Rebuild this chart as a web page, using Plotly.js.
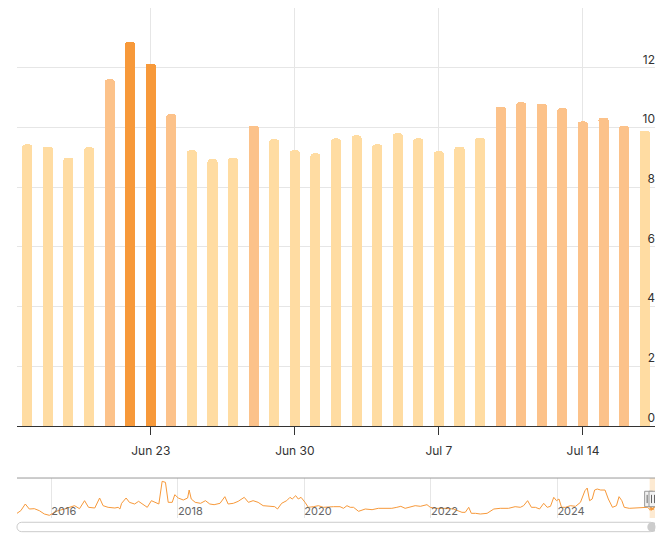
<!DOCTYPE html>
<html>
<head>
<meta charset="utf-8">
<script src="https://cdn.plot.ly/plotly-3.0.1.min.js"></script>
<style>
  html, body { margin: 0; padding: 0; background: #fff; }
  #chart { width: 664px; height: 534px; }
</style>
</head>
<body>
<div id="chart"></div>
<script>
// daily values shown as bars
var days = ['2025-06-17','2025-06-18','2025-06-19','2025-06-20','2025-06-21','2025-06-22','2025-06-23',
  '2025-06-24','2025-06-25','2025-06-26','2025-06-27','2025-06-28','2025-06-29','2025-06-30',
  '2025-07-01','2025-07-02','2025-07-03','2025-07-04','2025-07-05','2025-07-06','2025-07-07',
  '2025-07-08','2025-07-09','2025-07-10','2025-07-11','2025-07-12','2025-07-13','2025-07-14',
  '2025-07-15','2025-07-16','2025-07-17']
var values = [9.43, 9.36, 8.99, 9.33, 11.61, 12.86, 12.14,
  10.44, 9.23, 8.93, 8.99, 10.06, 9.60, 9.23,
  9.13, 9.63, 9.73, 9.43, 9.80, 9.63, 9.20,
  9.36, 9.66, 10.70, 10.84, 10.80, 10.64, 10.20,
  10.33, 10.06, 9.89]

// long history for the navigator strip
var histDates = ['2015-06-17','2015-07-09','2015-08-04','2015-08-27','2015-09-25','2015-10-24','2015-11-22','2015-12-21',
  '2016-01-10','2016-02-08','2016-03-17','2016-04-15','2016-05-14','2016-06-12','2016-07-11','2016-08-03','2016-09-08',
  '2016-10-06','2016-10-26','2016-11-24','2017-01-02','2017-01-21','2017-01-31','2017-02-10','2017-03-08','2017-03-27',
  '2017-04-26','2017-05-19','2017-06-13','2017-07-08','2017-08-01','2017-08-20','2017-09-13','2017-10-02','2017-10-21',
  '2017-11-06','2017-11-29','2017-12-14','2018-01-03','2018-02-01','2018-02-26','2018-03-07','2018-03-19','2018-04-11',
  '2018-05-12','2018-06-09','2018-07-04','2018-07-29','2018-09-01','2018-09-29','2018-10-18','2018-11-17','2018-12-15',
  '2019-01-19','2019-02-12','2019-03-11','2019-04-09','2019-05-08','2019-06-16','2019-07-14','2019-07-30','2019-08-23',
  '2019-09-21','2019-10-10','2019-10-23','2019-11-12','2019-11-27','2019-12-13','2020-01-05','2020-01-24','2020-02-23',
  '2020-03-22','2020-04-20','2020-05-19','2020-06-17','2020-07-25','2020-08-14','2020-09-03','2020-09-22','2020-10-11',
  '2020-11-09','2020-12-18','2021-01-26','2021-03-03','2021-04-11','2021-05-20','2021-06-18','2021-07-11','2021-08-05',
  '2021-09-04','2021-10-02','2021-11-01','2021-11-20','2021-12-09','2021-12-28','2022-01-27','2022-03-24','2022-05-11',
  '2022-06-29','2022-07-18','2022-08-07','2022-08-22','2022-09-15','2022-10-13','2022-11-21','2022-12-30','2023-02-05',
  '2023-03-25','2023-05-02','2023-06-01','2023-06-20','2023-07-13','2023-08-04','2023-08-27','2023-09-20','2023-10-14',
  '2023-11-03','2023-11-22','2023-12-11','2023-12-27','2024-01-10','2024-01-25','2024-02-17','2024-03-16','2024-04-15',
  '2024-05-13','2024-06-08','2024-06-21','2024-07-05','2024-07-20','2024-08-03','2024-08-18','2024-09-07','2024-10-02',
  '2024-10-21','2024-11-14','2024-12-07','2024-12-22','2025-01-07','2025-01-21','2025-02-19','2025-03-27','2025-05-05',
  '2025-06-03']
var histValues = [7.75, 8.81, 11.48, 9.48, 9.61, 8.81, 7.48, 6.95,
  7.75, 8.81, 9.48, 10.15, 10.81, 9.61, 12.81, 10.15, 9.88,
  13.88, 10.81, 10.15, 9.88, 10.15, 9.48, 11.75, 13.88, 12.15,
  11.48, 12.55, 11.48, 10.15, 12.81, 12.15, 11.48, 20.55, 20.15,
  12.15, 12.15, 15.21, 13.88, 13.08, 13.88, 17.08, 13.48, 12.15,
  11.75, 12.81, 11.48, 11.21, 11.75, 14.41, 11.48, 11.75, 12.55,
  14.15, 12.15, 12.81, 12.15, 10.81, 10.68, 10.41, 9.48, 11.75,
  12.81, 14.15, 13.48, 14.81, 13.48, 14.15, 12.15, 10.15, 10.41,
  10.81, 10.15, 10.41, 10.41, 10.41, 9.75, 10.81, 10.15, 10.15,
  8.55, 9.48, 9.21, 9.75, 9.61, 9.75, 10.15, 10.55, 9.75,
  10.15, 10.81, 10.55, 10.81, 11.21, 10.15, 9.75, 9.75, 9.48,
  8.15, 8.15, 10.15, 7.75, 7.75, 7.48, 7.75, 9.48, 9.75,
  9.75, 10.41, 10.15, 10.81, 12.81, 10.15, 10.15, 9.48, 11.75,
  10.15, 10.55, 14.15, 12.81, 13.48, 10.15, 10.15, 10.81, 10.55,
  12.15, 16.81, 17.88, 12.81, 13.48, 17.08, 17.48, 17.08, 17.08,
  13.48, 10.15, 10.81, 14.41, 12.81, 10.15, 9.75, 9.88, 10.15,
  10.15]

var yTicks = [0, 2, 4, 6, 8, 10, 12, 14]
var yTickText = ['0', '2', '4', '6', '8', '10', '12', '']

var DAY = 86400000
var viewStart = '2025-06-16 12:00'
var viewEnd = '2025-07-17 12:00'
var navStart = '2015-06-17'
var navTop = 0.0784   // top of navigator strip, paper units

// shade bars by level
var barColors = values.map(function (v) {
  if (v > 12) return '#F7993A'
  if (v >= 10) return '#FCC28A'
  return '#FFDCA2'
})

var bars = {
  type: 'bar',
  x: days,
  y: values,
  width: DAY * 0.49,
  marker: { color: barColors, cornerradius: 3 },
  hoverinfo: 'x+y',
  xaxis: 'x',
  yaxis: 'y'
}

var navLine = {
  type: 'scatter',
  mode: 'lines',
  x: histDates.concat(days),
  y: histValues.concat(values),
  line: { color: '#F7993A', width: 1 },
  hoverinfo: 'skip',
  xaxis: 'x2',
  yaxis: 'y2'
}

var handleTop = 0.0524, handleBot = 0.0222
var shapes = [
  // navigator top border
  { type: 'line', xref: 'paper', yref: 'paper', x0: 0, x1: 1, y0: navTop, y1: navTop,
    line: { color: '#999', width: 1 } },
  // selected window
  { type: 'rect', xref: 'x2', yref: 'paper', x0: viewStart, x1: viewEnd, y0: 0, y1: navTop,
    fillcolor: 'rgba(247,148,29,0.2)', line: { width: 0 }, layer: 'below' },
  // scrollbar track
  { type: 'path', xref: 'paper', yref: 'paper', xsizemode: 'pixel', ysizemode: 'pixel',
    xanchor: 0, yanchor: -0.0176,
    path: 'M 4.7,4.7 L 633.3,4.7 C 639.6,4.7 639.6,-4.7 633.3,-4.7 L 4.7,-4.7 C -1.6,-4.7 -1.6,4.7 4.7,4.7 Z',
    fillcolor: '#fff', line: { color: '#ccc', width: 1 } }
]

// handles at both window edges
;[viewStart, viewEnd].forEach(function (edge, k) {
  var off = k === 0 ? -1 : -2
  shapes.push({ type: 'rect', xref: 'x2', yref: 'paper', xsizemode: 'pixel', xanchor: edge,
    x0: off - 4, x1: off + 4, y0: handleBot, y1: handleTop,
    fillcolor: '#f2f2f2', line: { color: '#999', width: 1 } })
  ;[-1.5, 1.5].forEach(function (d) {
    shapes.push({ type: 'line', xref: 'x2', yref: 'paper', xsizemode: 'pixel', xanchor: edge,
      x0: off + d, x1: off + d, y0: handleBot + 0.007, y1: handleTop - 0.007,
      line: { color: '#666', width: 1 } })
  })
})

// scrollbar thumb
shapes.push({ type: 'circle', xref: 'x2', yref: 'paper', xsizemode: 'pixel', ysizemode: 'pixel',
  xanchor: '2025-07-02', yanchor: -0.0176, x0: -5, x1: 5, y0: -5, y1: 5,
  fillcolor: '#ccc', line: { width: 0 } })

var layout = {
  width: 664,
  height: 534,
  margin: { l: 17, r: 9, t: 8, b: 16 },
  paper_bgcolor: '#fff',
  plot_bgcolor: '#fff',
  showlegend: false,
  font: { family: 'Inter, "Open Sans", sans-serif', color: '#333', size: 12 },
  bargap: 0,
  xaxis: {
    type: 'date',
    domain: [0, 1],
    anchor: 'y',
    range: [viewStart, viewEnd],
    tick0: '2025-06-23',
    dtick: 7 * DAY,
    tickformat: '%b %-d',
    ticks: 'outside',
    ticklen: 8,
    tickcolor: '#333',
    ticklabelstandoff: 6,
    showline: true,
    linecolor: '#333',
    linewidth: 1,
    showgrid: true,
    gridcolor: '#e6e6e6',
    zeroline: false,
    fixedrange: true,
    tickfont: { size: 12, color: '#333' }
  },
  yaxis: {
    domain: [0.1804, 1],
    anchor: 'x',
    side: 'right',
    range: [0, 14],
    tickvals: yTicks,
    ticktext: yTickText,
    ticklabelposition: 'inside top',
    ticklabelstandoff: -3,
    ticks: '',
    showgrid: true,
    gridcolor: '#e6e6e6',
    zeroline: false,
    showline: false,
    fixedrange: true,
    tickfont: { size: 12, color: '#333' }
  },
  xaxis2: {
    type: 'date',
    domain: [0, 1],
    anchor: 'y2',
    range: [navStart, viewEnd],
    tick0: '2016-01-01',
    dtick: 'M24',
    tickformat: '%Y',
    ticklabelposition: 'inside right',
    ticklabelstandoff: -5,
    ticks: '',
    showgrid: true,
    gridcolor: '#e6e6e6',
    showline: false,
    zeroline: false,
    fixedrange: true,
    tickfont: { size: 11, color: '#666' }
  },
  yaxis2: {
    domain: [0, navTop],
    anchor: 'x2',
    range: [5.88, 21.88],
    showgrid: false,
    showticklabels: false,
    zeroline: false,
    showline: false,
    fixedrange: true
  },
  shapes: shapes
}

Plotly.newPlot('chart', [navLine, bars], layout, { displayModeBar: false, staticPlot: true })
</script>
</body>
</html>
